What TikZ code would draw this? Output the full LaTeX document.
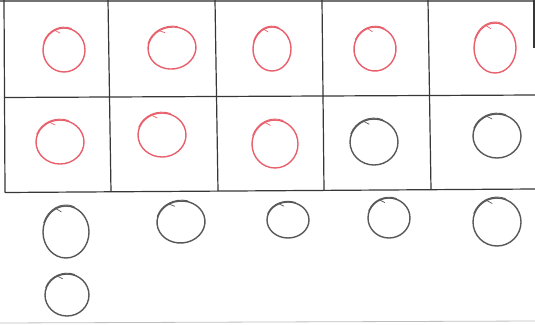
\documentclass[tikz,border=0pt]{standalone}
\usetikzlibrary{calc}
\definecolor{penred}{RGB}{232,96,108}
\definecolor{pengray}{RGB}{88,88,88}
\definecolor{gridc}{RGB}{55,55,55}
\tikzset{
  gridline/.style={draw=gridc, line width=1.2pt},
  hand/.style={line width=1.4pt, line cap=round},
}
% \hcirc{cx}{cy}{rx}{ry}{color}{rot}   (y axis points down: negative angles are visually up)
\newcommand{\hcirc}[6]{%
  \begin{scope}[shift={(#1,#2)}, rotate=#6]
    \draw[hand, #5] (0,0) ellipse [x radius=#3, y radius=#4];
    \draw[hand, #5, line width=0.9pt] (-160:{#3*1.03} and {#4*1.04}) arc[start angle=-160, end angle=-70, x radius={#3*1.03}, y radius={#4*1.04}];
    \draw[hand, #5, line width=0.7pt] (-115:{#3*0.98} and {#4*0.98}) -- (-105:{#3*0.78} and {#4*0.8});
  \end{scope}}
\begin{document}
\begin{tikzpicture}[x=1pt, y=-1pt]
  \useasboundingbox (0,0) rectangle (535,324);
  \fill[white] (0,0) rectangle (535,324);
  % grid
  \draw[gridline, draw=gridc!70] (0,1) -- (535,1);
  \draw[gridline] (4,97.5) -- (535,95);
  \draw[gridline] (5,192.5) -- (535,189);
  \draw[gridline] (4,0) -- (5,192.5);
  \draw[gridline] (108,0) -- (111,192);
  \draw[gridline] (215,0) -- (218,191);
  \draw[gridline] (322,0) -- (324,190);
  \draw[gridline] (428,0) -- (431,189.5);
  \draw[gridline] (534,0) -- (534,48);
  % faint bottom edge
  \draw[draw=black!25, line width=0.8pt] (0,323) -- (535,321);
  % red circles
  \hcirc{64}{50}{21}{22}{penred}{0}
  \hcirc{172}{48}{24}{21}{penred}{8}
  \hcirc{272}{49}{19}{22}{penred}{0}
  \hcirc{375}{49}{21}{22}{penred}{-5}
  \hcirc{495}{48}{21}{25}{penred}{0}
  \hcirc{60}{142}{24}{22}{penred}{0}
  \hcirc{162}{135}{24}{22}{penred}{0}
  \hcirc{275}{144}{23}{24}{penred}{0}
  % gray circles
  \hcirc{374}{142}{24}{23}{pengray}{0}
  \hcirc{497}{136}{24}{22}{pengray}{0}
  \hcirc{66}{232}{23}{26}{pengray}{0}
  \hcirc{181}{222}{24}{21}{pengray}{5}
  \hcirc{288}{220}{21}{18}{pengray}{0}
  \hcirc{389}{218}{21}{20}{pengray}{0}
  \hcirc{497}{222}{24}{24}{pengray}{0}
  \hcirc{67}{295}{22}{21}{pengray}{0}
\end{tikzpicture}
\end{document}
